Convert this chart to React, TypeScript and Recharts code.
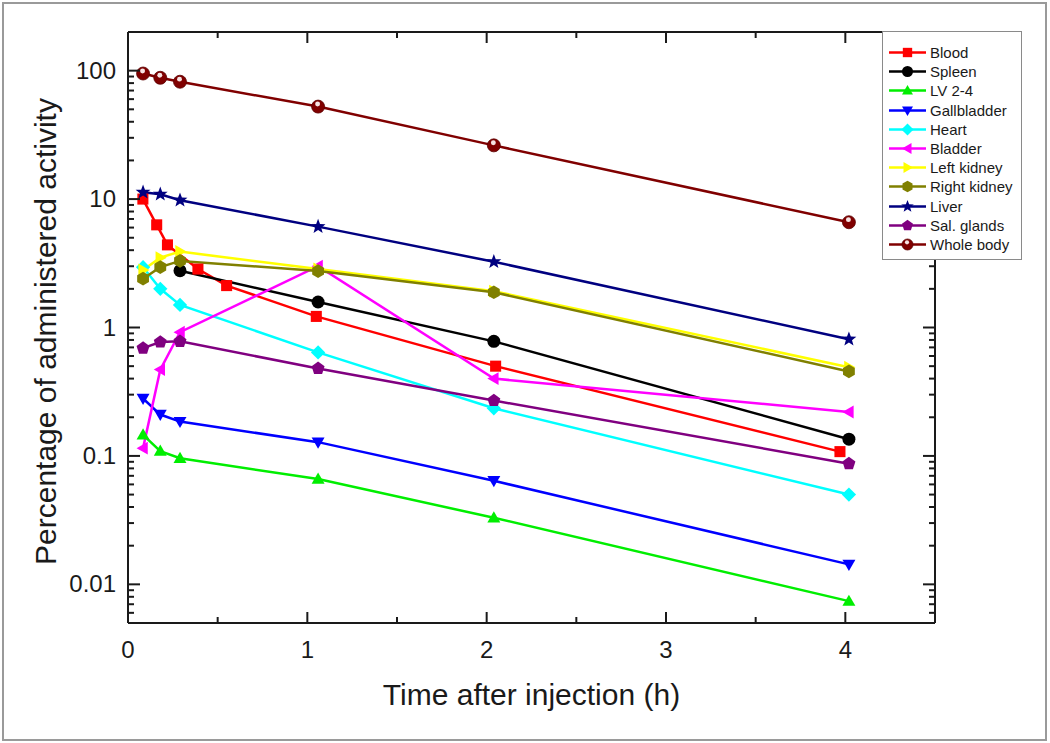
import React from "react";
import { LineChart, Line, XAxis, YAxis, Legend } from "recharts";

// sampling times (h)
const times = [0.084, 0.18, 0.29, 1.06, 2.04, 4.02];
const bloodTimes = [0.083, 0.16, 0.22, 0.39, 0.55, 1.05, 2.05, 3.97];
const spleenTimes = [0.29, 1.06, 2.04, 4.02];

// % of administered activity
const bloodVals = [10, 6.3, 4.4, 2.85, 2.12, 1.22, 0.5, 0.108];
const spleenVals = [2.77, 1.58, 0.78, 0.135];
const lvVals = [0.146, 0.109, 0.096, 0.066, 0.033, 0.0074];
const gallbladderVals = [0.28, 0.21, 0.185, 0.128, 0.064, 0.0143];
const heartVals = [2.95, 2.0, 1.5, 0.64, 0.235, 0.05];
const bladderVals = [0.115, 0.47, 0.92, 3.0, 0.4, 0.22];
const leftKidneyVals = [2.8, 3.5, 3.9, 2.85, 1.92, 0.49];
const rightKidneyVals = [2.4, 2.95, 3.3, 2.75, 1.88, 0.455];
const liverVals = [11.3, 10.9, 9.8, 6.1, 3.25, 0.81];
const salGlandVals = [0.69, 0.77, 0.78, 0.48, 0.27, 0.087];
const wholeBodyVals = [95, 88, 82, 52.5, 26.2, 6.6];

const xTicks = [0, 0.5, 1, 1.5, 2, 2.5, 3, 3.5, 4];
const xLabels = [0, 1, 2, 3, 4];
const yMajor = [0.01, 0.1, 1, 10, 100];

const yTicks: number[] = [];
[0.001, 0.01, 0.1, 1, 10, 100].forEach((d) => {
  for (let k = 1; k <= 9; k++) {
    const v = +(d * k).toPrecision(3);
    if (v >= 0.005 && v <= 200) yTicks.push(v);
  }
});

type Shape =
  | "square" | "circle" | "up" | "down" | "diamond" | "left" | "right"
  | "hexagon" | "star" | "pentagon" | "sphere";

const mk = (t: number[], v: number[]) => t.map((x, i) => ({ t: x, v: v[i] }));

const series: { name: string; color: string; shape: Shape; data: { t: number; v: number }[] }[] = [
  { name: "Blood", color: "#ff0000", shape: "square", data: mk(bloodTimes, bloodVals) },
  { name: "Spleen", color: "#000000", shape: "circle", data: mk(spleenTimes, spleenVals) },
  { name: "LV 2-4", color: "#00ee00", shape: "up", data: mk(times, lvVals) },
  { name: "Gallbladder", color: "#0000ff", shape: "down", data: mk(times, gallbladderVals) },
  { name: "Heart", color: "#00ffff", shape: "diamond", data: mk(times, heartVals) },
  { name: "Bladder", color: "#ff00ff", shape: "left", data: mk(times, bladderVals) },
  { name: "Left kidney", color: "#ffff00", shape: "right", data: mk(times, leftKidneyVals) },
  { name: "Right kidney", color: "#808000", shape: "hexagon", data: mk(times, rightKidneyVals) },
  { name: "Liver", color: "#000080", shape: "star", data: mk(times, liverVals) },
  { name: "Sal. glands", color: "#800080", shape: "pentagon", data: mk(times, salGlandVals) },
  { name: "Whole body", color: "#800000", shape: "sphere", data: mk(times, wholeBodyVals) },
];

const FONT = "'Liberation Sans', Arial, sans-serif";
const INK = "#1a1a1a";

function poly(cx: number, cy: number, r: number, n: number, rot: number, inner?: number) {
  const pts: string[] = [];
  const count = inner ? n * 2 : n;
  for (let i = 0; i < count; i++) {
    const rr = inner && i % 2 === 1 ? inner : r;
    const a = rot + (i * 2 * Math.PI) / count;
    pts.push(`${cx + rr * Math.cos(a)},${cy + rr * Math.sin(a)}`);
  }
  return pts.join(" ");
}

function Marker({ shape, cx, cy, r, color }: { shape: Shape; cx: number; cy: number; r: number; color: string }) {
  const up = -Math.PI / 2;
  switch (shape) {
    case "square":
      return <rect x={cx - r * 0.85} y={cy - r * 0.85} width={r * 1.7} height={r * 1.7} fill={color} />;
    case "circle":
      return <circle cx={cx} cy={cy} r={r} fill={color} />;
    case "up":
      return <polygon points={poly(cx, cy + r * 0.15, r * 1.15, 3, up)} fill={color} />;
    case "down":
      return <polygon points={poly(cx, cy - r * 0.15, r * 1.15, 3, Math.PI / 2)} fill={color} />;
    case "left":
      return <polygon points={poly(cx + r * 0.15, cy, r * 1.15, 3, Math.PI)} fill={color} />;
    case "right":
      return <polygon points={poly(cx - r * 0.15, cy, r * 1.15, 3, 0)} fill={color} />;
    case "diamond":
      return <polygon points={poly(cx, cy, r * 1.1, 4, up)} fill={color} />;
    case "hexagon":
      return <polygon points={poly(cx, cy, r * 1.05, 6, up)} fill={color} />;
    case "pentagon":
      return <polygon points={poly(cx, cy, r * 1.05, 5, up)} fill={color} />;
    case "star":
      return <polygon points={poly(cx, cy, r * 1.2, 5, up, r * 0.5)} fill={color} />;
    case "sphere":
      return (
        <g>
          <circle cx={cx} cy={cy} r={r} fill={color} stroke="#5a0000" strokeWidth={0.8} />
          <circle cx={cx - 0.5} cy={cy - r * 0.4} r={r * 0.38} fill="#f6e4e4" />
        </g>
      );
  }
  return null;
}

function LegendBox() {
  return (
    <div
      style={{
        width: 140,
        height: 229,
        boxSizing: "border-box",
        border: "1.5px solid #8a8a8a",
        background: "#fff",
        padding: "11px 0 0 5px",
        fontFamily: FONT,
        fontSize: 15,
        color: INK,
      }}
    >
      {series.map((s) => (
        <div key={s.name} style={{ display: "flex", alignItems: "center", height: 19.2 }}>
          <svg width={40} height={19} style={{ flex: "none" }}>
            <line x1={1} x2={38} y1={9.5} y2={9.5} stroke={s.color} strokeWidth={2.5} />
            <Marker shape={s.shape} cx={19.5} cy={9.5} r={5.5} color={s.color} />
          </svg>
          <span style={{ marginLeft: 2, whiteSpace: "nowrap" }}>{s.name}</span>
        </div>
      ))}
    </div>
  );
}

const BottomTick = (p: any) => {
  const v = p.payload.value;
  const major = xLabels.includes(v);
  return (
    <g>
      <line x1={p.x} x2={p.x} y1={p.y} y2={p.y - (major ? 11 : 6)} stroke={INK} strokeWidth={2} />
      {major && (
        <text x={p.x} y={p.y + 35} textAnchor="middle" fontSize={24} fontFamily={FONT} fill={INK}>
          {v}
        </text>
      )}
    </g>
  );
};

const TopTick = (p: any) => {
  const major = xLabels.includes(p.payload.value);
  return <line x1={p.x} x2={p.x} y1={p.y} y2={p.y + (major ? 11 : 6)} stroke={INK} strokeWidth={2} />;
};

const LeftTick = (p: any) => {
  const v = p.payload.value;
  const major = yMajor.includes(v);
  return (
    <g>
      <line x1={p.x} x2={p.x + (major ? 12 : 6)} y1={p.y} y2={p.y} stroke={INK} strokeWidth={2} />
      {major && (
        <text x={p.x - 12} y={p.y + 8} textAnchor="end" fontSize={24} fontFamily={FONT} fill={INK}>
          {String(v)}
        </text>
      )}
    </g>
  );
};

const RightTick = (p: any) => {
  const major = yMajor.includes(p.payload.value);
  return <line x1={p.x} x2={p.x - (major ? 12 : 6)} y1={p.y} y2={p.y} stroke={INK} strokeWidth={2} />;
};

const axisLine = { stroke: INK, strokeWidth: 2 };

export default function App() {
  return (
    <div style={{ position: "absolute", left: 0, top: 0, width: 1050, height: 743, background: "#fff" }}>
      <div
        style={{
          position: "absolute",
          left: 2,
          top: 2,
          width: 1045,
          height: 739,
          boxSizing: "border-box",
          border: "2px solid #9a9a9a",
          pointerEvents: "none",
        }}
      />
      <LineChart width={1050} height={743} margin={{ top: 31, right: 114, left: 0, bottom: 0 }}>
        <XAxis
          xAxisId="b"
          dataKey="t"
          type="number"
          domain={[0, 4.5]}
          allowDataOverflow
          ticks={xTicks}
          interval={0}
          tickSize={0}
          tickMargin={0}
          height={120}
          axisLine={axisLine}
          tick={BottomTick}
          label={{
            content: (lp: any) => {
              const vb = lp.viewBox;
              return (
                <text x={vb.x + vb.width / 2} y={vb.y + 82} textAnchor="middle" fontSize={30} fontFamily={FONT} fill={INK}>
                  Time after injection (h)
                </text>
              );
            },
          }}
        />
        <XAxis
          xAxisId="t"
          dataKey="t"
          orientation="top"
          type="number"
          domain={[0, 4.5]}
          allowDataOverflow
          ticks={xTicks}
          interval={0}
          tickSize={0}
          tickMargin={0}
          height={1}
          axisLine={axisLine}
          tick={TopTick}
        />
        <YAxis
          yAxisId="l"
          scale="log"
          type="number"
          domain={[0.005, 200]}
          allowDataOverflow
          ticks={yTicks}
          interval={0}
          tickSize={0}
          tickMargin={0}
          width={128}
          axisLine={axisLine}
          tick={LeftTick}
          label={{
            content: (lp: any) => {
              const vb = lp.viewBox;
              const cx = 45;
              const cy = vb.y + vb.height / 2 + 4;
              return (
                <text
                  x={cx}
                  y={cy}
                  transform={`rotate(-90, ${cx}, ${cy})`}
                  textAnchor="middle"
                  dominantBaseline="central"
                  fontSize={30}
                  fontFamily={FONT}
                  fill={INK}
                >
                  Percentage of administered activity
                </text>
              );
            },
          }}
        />
        <YAxis
          yAxisId="r"
          orientation="right"
          scale="log"
          type="number"
          domain={[0.005, 200]}
          allowDataOverflow
          ticks={yTicks}
          interval={0}
          tickSize={0}
          tickMargin={0}
          width={1}
          axisLine={axisLine}
          tick={RightTick}
        />
        {series.map((s, i) => {
          // the last series is bound to the mirror axes (same domains) so they get drawn
          const mirror = i === series.length - 1;
          return (
            <Line
              key={s.name}
              xAxisId={mirror ? "t" : "b"}
              yAxisId={mirror ? "r" : "l"}
              data={s.data}
              dataKey="v"
              name={s.name}
              stroke={s.color}
              strokeWidth={2.5}
              isAnimationActive={false}
              activeDot={false}
              dot={(p: any) => (
                <Marker key={`${s.name}-${p.index}`} shape={s.shape} cx={p.cx} cy={p.cy} r={6.5} color={s.color} />
              )}
            />
          );
        })}
        <Legend
          layout="horizontal"
          verticalAlign="middle"
          align="center"
          wrapperStyle={{ position: "absolute", left: 882, top: 31, width: 140, height: 229 }}
          content={() => <LegendBox />}
        />
      </LineChart>
    </div>
  );
}
